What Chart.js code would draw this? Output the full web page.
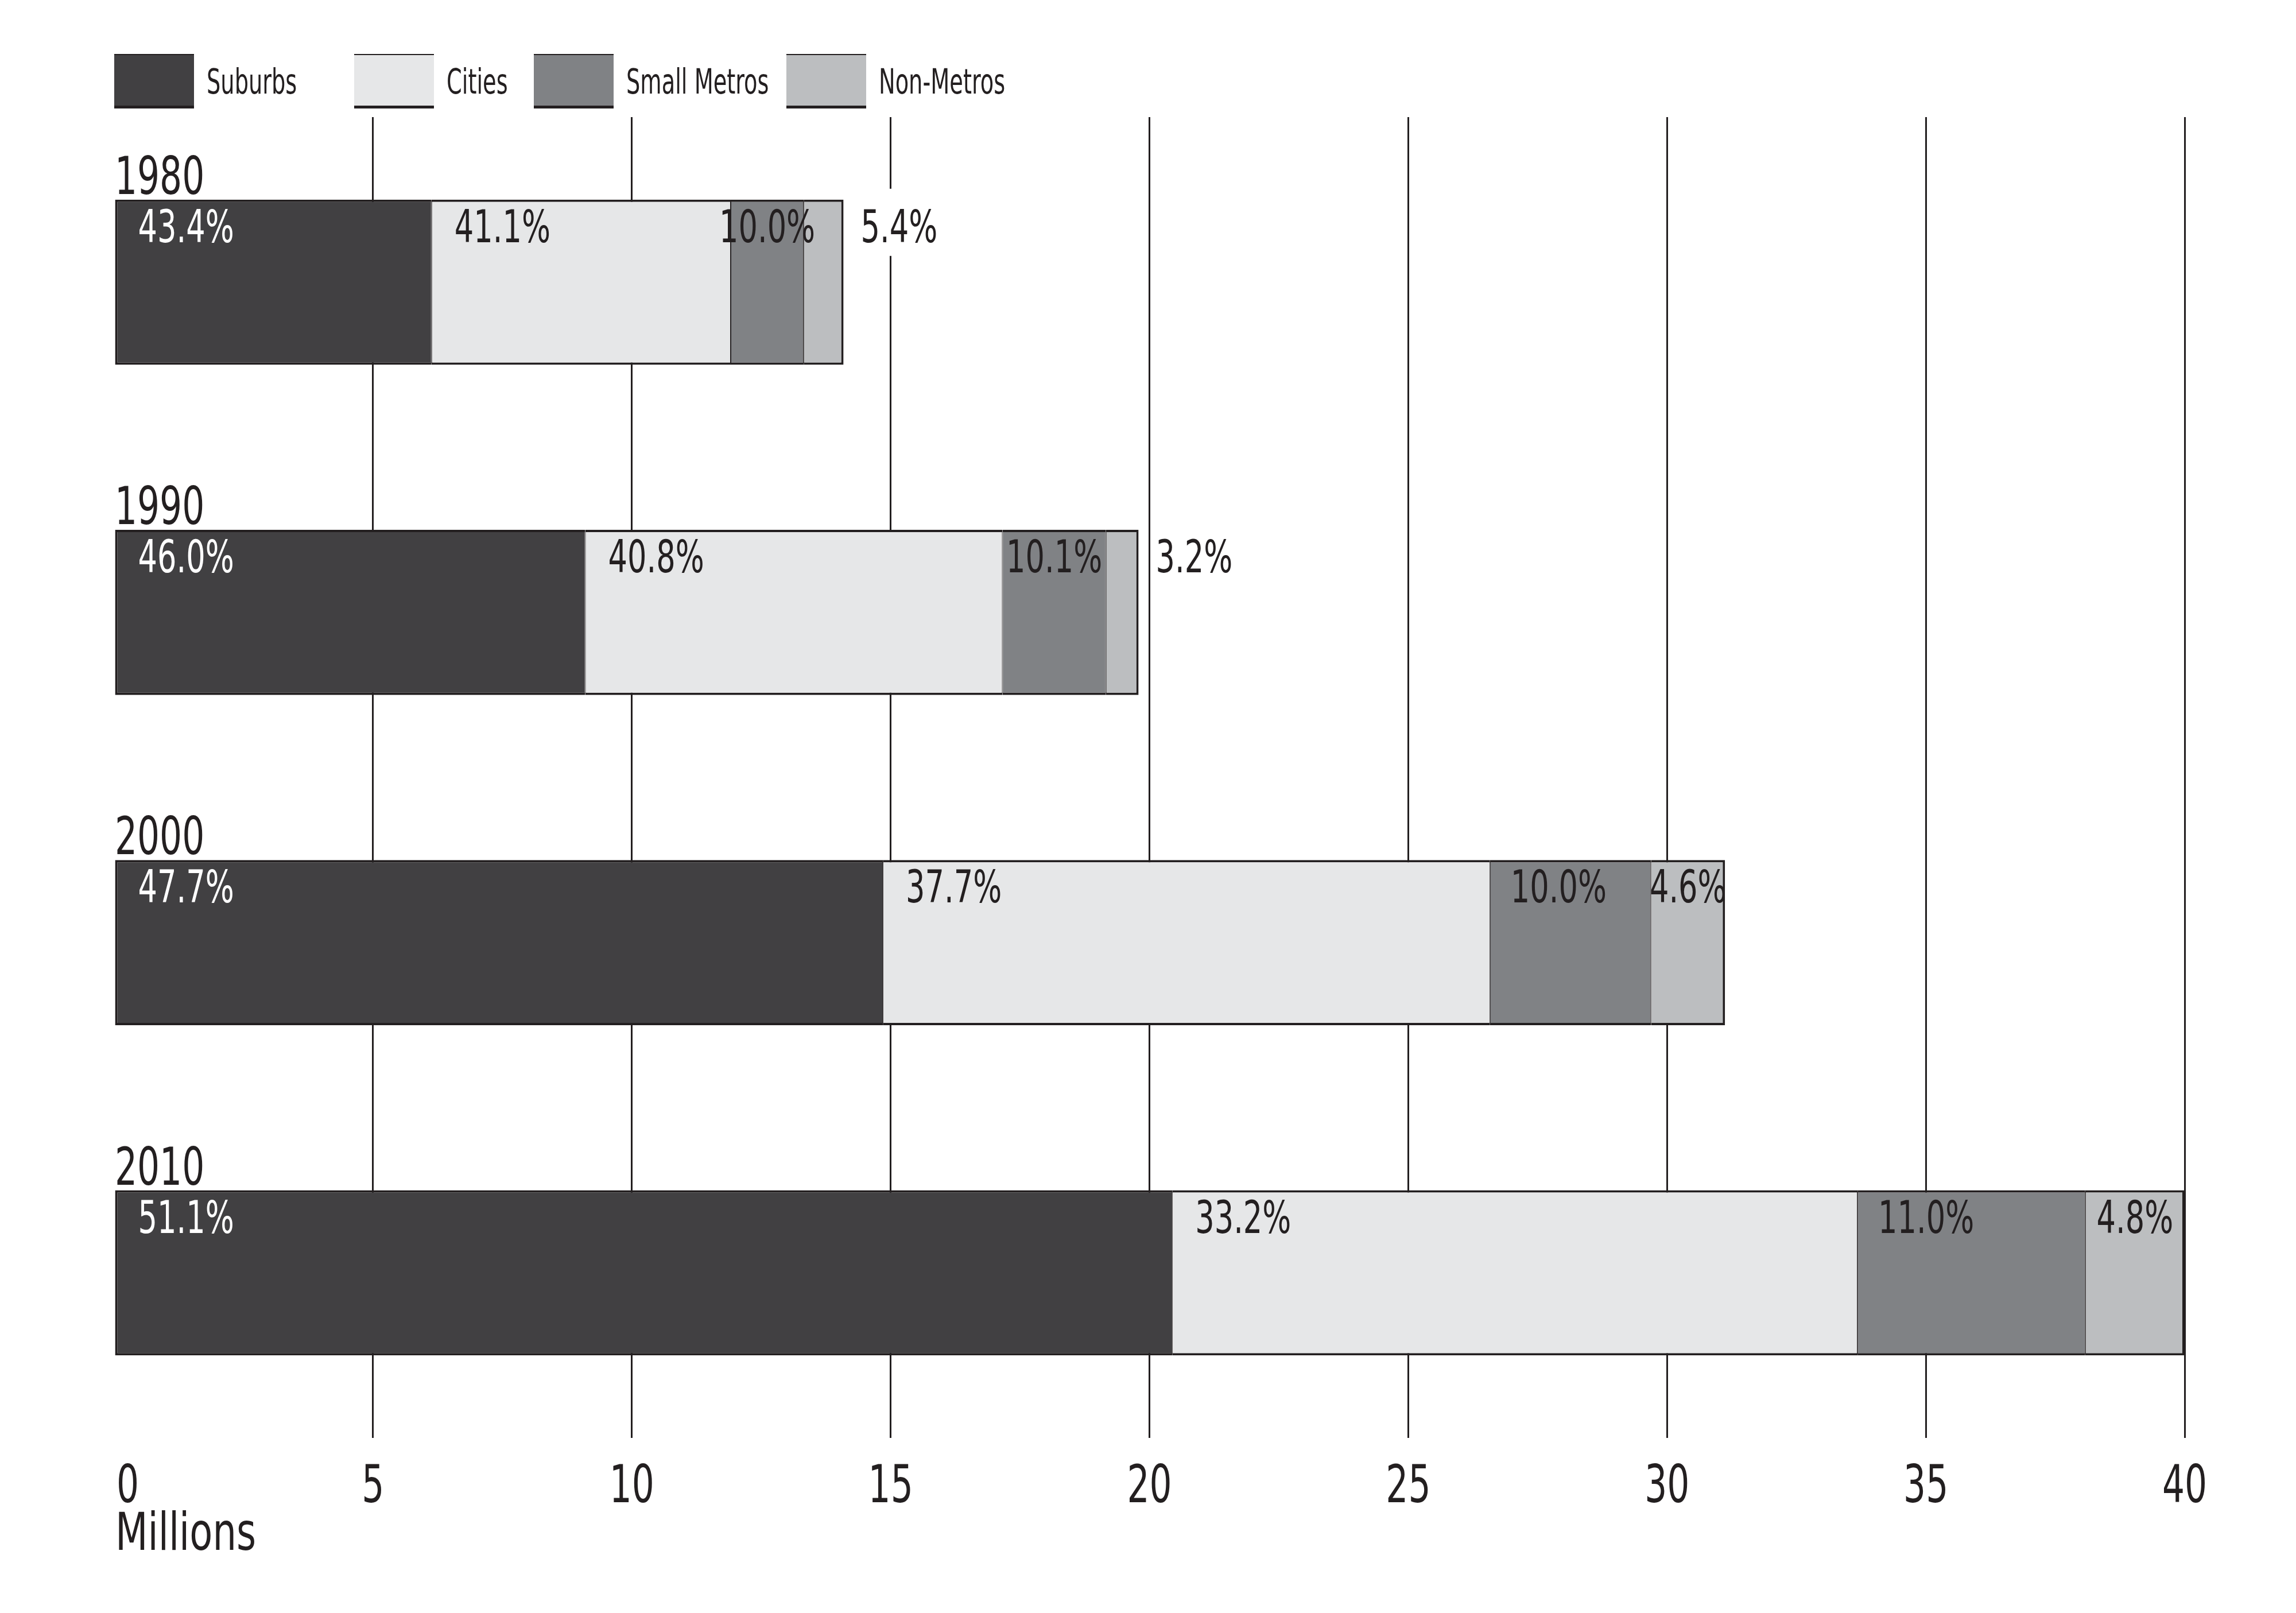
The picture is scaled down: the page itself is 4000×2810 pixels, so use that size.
<!DOCTYPE html>
<html>
<head>
<meta charset="utf-8">
<script src="https://cdn.jsdelivr.net/npm/chart.js@4.4.0/dist/chart.umd.min.js"></script>
<style>
  html, body { margin: 0; padding: 0; background: #fff; }
  #wrap { width: 4000px; height: 2810px; }
</style>
</head>
<body>
<div id="wrap"><canvas id="popChart" width="4000" height="2810"></canvas></div>
<script>
// ---- data (millions of people) ----
const years = ['1980', '1990', '2000', '2010'];
const suburbs = [6.13, 9.10, 14.85, 20.44];
const cities = [5.78, 8.06, 11.73, 13.24];
const smallMetros = [1.41, 2.00, 3.11, 4.40];
const nonMetros = [0.77, 0.63, 1.43, 1.92];

// share labels as printed on the chart
const suburbsPct = ['43.4%', '46.0%', '47.7%', '51.1%'];
const citiesPct = ['41.1%', '40.8%', '37.7%', '33.2%'];
const smallMetrosPct = ['10.0%', '10.1%', '10.0%', '11.0%'];
const nonMetrosPct = ['5.4%', '3.2%', '4.6%', '4.8%'];

const xTicks = [0, 5, 10, 15, 20, 25, 30, 35, 40];

const INK = '#231f20';
const FONT = '"DejaVu Sans Condensed", "Liberation Sans", sans-serif';
const SQUEEZE = 0.75; // condensed look

const SERIES = [
    { label: 'Suburbs', data: suburbs, pct: suburbsPct, color: '#414042', text: '#ffffff' },
    { label: 'Cities', data: cities, pct: citiesPct, color: '#e6e7e8', text: INK },
    { label: 'Small Metros', data: smallMetros, pct: smallMetrosPct, color: '#808285', text: INK },
    { label: 'Non-Metros', data: nonMetros, pct: nonMetrosPct, color: '#bcbec0', text: INK },
];

// legend box left edges
const LEGEND_X = [199, 617, 930, 1370];

// draw text squeezed horizontally
function squeezed(c, txt, x, y, align, sx) {
    c.save();
    c.translate(x, y);
    c.scale(sx, 1);
    c.textAlign = align;
    c.fillText(txt, 0, 0);
    c.restore();
}

const overlay = {
    id: 'overlay',
    afterDatasetsDraw(chart) {
        const c = chart.ctx;
        const area = chart.chartArea;
        const xs = chart.scales.x;
        c.save();
        c.textBaseline = 'alphabetic';

        // segment share labels
        c.font = '78px ' + FONT;
        SERIES.forEach((s, i) => {
            const meta = chart.getDatasetMeta(i);
            meta.data.forEach((bar, j) => {
                const left = Math.min(bar.base, bar.x);
                const right = Math.max(bar.base, bar.x);
                const top = bar.y - bar.height / 2;
                const txt = s.pct[j];
                const w = c.measureText(txt).width * SQUEEZE;
                const segW = right - left;
                const y = top + 74;
                if (i === SERIES.length - 1 && segW < 100) {
                    // label outside the bar, knocking out the grid line
                    const tx = right + 30;
                    c.fillStyle = '#ffffff';
                    c.fillRect(tx - 4, top - 19, w + 14, 117);
                    c.fillStyle = INK;
                    squeezed(c, txt, tx, y, 'left', SQUEEZE);
                } else {
                    let pad = i < 2 ? 40 : Math.max(0, Math.min(36, (segW - w) / 2));
                    if (w > segW) pad = (segW - w) / 2;
                    c.fillStyle = s.text;
                    squeezed(c, txt, left + pad, y, 'left', SQUEEZE);
                }
            });
        });

        // year labels above each bar
        c.font = '91px ' + FONT;
        c.fillStyle = INK;
        const meta0 = chart.getDatasetMeta(0);
        meta0.data.forEach((bar, j) => {
            const top = bar.y - bar.height / 2;
            squeezed(c, years[j], area.left + 1, top - 10, 'left', SQUEEZE);
        });

        // x tick labels
        xTicks.forEach(v => {
            const px = xs.getPixelForValue(v);
            squeezed(c, String(v), v === 0 ? px + 4 : px, 2617, v === 0 ? 'left' : 'center', SQUEEZE);
        });
        squeezed(c, 'Millions', area.left + 2, 2700, 'left', 0.8);

        // legend
        c.font = '60px ' + FONT;
        SERIES.forEach((s, i) => {
            const x = LEGEND_X[i];
            c.fillStyle = s.color;
            c.fillRect(x, 94, 139, 94);
            c.fillStyle = INK;
            c.fillRect(x, 94, 139, 2);
            c.fillRect(x, 184, 139, 5);
            squeezed(c, s.label, x + 161, 163, 'left', 0.71);
        });
        c.restore();
    }
};

const ctx = document.getElementById('popChart').getContext('2d');
new Chart(ctx, {
    type: 'bar',
    data: {
        labels: years,
        datasets: SERIES.map((s, i) => ({
            label: s.label,
            data: s.data,
            backgroundColor: s.color,
            borderColor: INK,
            borderWidth: {
                top: 4,
                bottom: 4,
                left: i === 0 ? 4 : 1,
                right: i === SERIES.length - 1 ? 4 : 1
            },
            borderSkipped: false,
            categoryPercentage: 1,
            barPercentage: 0.5
        }))
    },
    options: {
        indexAxis: 'y',
        responsive: false,
        devicePixelRatio: 1,
        animation: false,
        layout: { padding: { left: 199, right: 194, top: 204, bottom: 305 } },
        scales: {
            x: {
                stacked: true,
                min: 0,
                max: 40,
                ticks: { display: false, stepSize: 5 },
                border: { display: false },
                grid: {
                    drawTicks: false,
                    lineWidth: 3,
                    color: (c) => (c.tick && c.tick.value === 0) ? 'rgba(0,0,0,0)' : INK
                }
            },
            y: {
                stacked: true,
                display: false
            }
        },
        plugins: {
            legend: { display: false },
            tooltip: { enabled: false }
        }
    },
    plugins: [overlay]
});
</script>
</body>
</html>
